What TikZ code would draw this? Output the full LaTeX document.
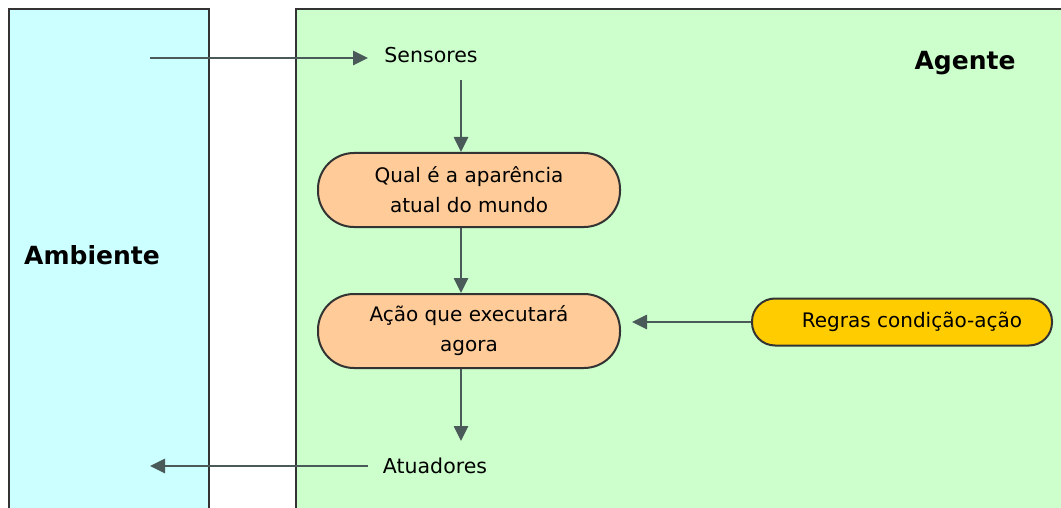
\documentclass[tikz,border=0pt]{standalone}
\usepackage{fontspec}
\setmainfont{DejaVu Sans}
\usetikzlibrary{arrows.meta}
\definecolor{amb}{HTML}{CCFFFF}
\definecolor{agt}{HTML}{CCFFCC}
\definecolor{ovl}{HTML}{FFCC99}
\definecolor{rul}{HTML}{FFCC00}
\definecolor{ln}{HTML}{333333}
\definecolor{cn}{HTML}{4A5A58}
\tikzset{
  panel/.style={draw=ln, line width=2.4pt},
  oval/.style={draw=ln, line width=2pt, fill=ovl, rounded corners=36pt, minimum width=302pt, minimum height=74pt, align=center, font=\fontsize{20}{30}\selectfont, inner sep=0pt},
  rule/.style={draw=ln, line width=2pt, fill=rul, rounded corners=23pt, minimum width=300pt, minimum height=47pt, font=\fontsize{20}{24}\selectfont, inner sep=0pt},
  lbl/.style={font=\fontsize{20.5}{24}\selectfont, inner sep=0pt},
  ttl/.style={font=\bfseries\fontsize{25}{30}\selectfont, inner sep=0pt},
  conn/.style={draw=cn, line width=2.6pt, -{Triangle[length=15pt,width=14pt]}}
}
\begin{document}
\begin{tikzpicture}[x=1pt,y=-1pt]
\useasboundingbox (0,0) rectangle (1061,508);
\fill[amb] (9,9) rectangle (209,520);
\draw[panel] (9,520) -- (9,9) -- (209,9) -- (209,520);
\fill[agt] (296,9) rectangle (1070,520);
\draw[panel] (296,520) -- (296,9) -- (1070,9);
\node[ttl] (amb) at (92,255) {Ambiente};
\node[ttl] (agt) at (965,63) {Agente};
\coordinate (inL) at (150,58);
\node[lbl] (sens) at (431,55) {Sensores};
\node[oval] (q) at (469,190) {Qual é a aparência\\atual do mundo};
\node[oval] (a) at (469,331) {Ação que executará\\agora};
\node[rule] (r) at (902,322) {\hspace*{20pt}Regras condição-ação};
\node[lbl] (atu) at (435,466) {Atuadores};
\coordinate (outL) at (150,466);
\draw[conn] (inL) -- (368,58);
\draw[conn] (461,80) -- (461,152);
\draw[conn] (461,228) -- (461,293);
\draw[conn] (461,369) -- (461,441);
\draw[conn] (r.west) -- (632,322);
\draw[conn] (368,466) -- (outL);
\end{tikzpicture}
\end{document}
